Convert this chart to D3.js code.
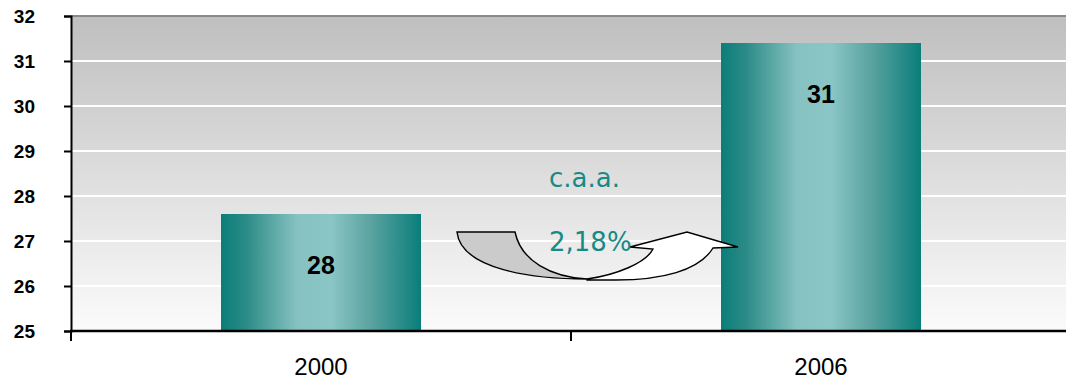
<!DOCTYPE html>
<html>
<head>
<meta charset="utf-8">
<script src="https://cdn.jsdelivr.net/npm/d3@7"></script>
<style>
  html, body { margin: 0; padding: 0; background: #ffffff; }
  svg { display: block; }
</style>
</head>
<body>
<svg id="chart" width="1066" height="383"></svg>
<script>
// Population (millions), 2000 vs 2006
const categories = ["2000", "2006"];
const values = [27.6, 31.4];
const yTicks = [25, 26, 27, 28, 29, 30, 31, 32];
const growthTitle = "c.a.a.";
const growthRate = "2,18%";

const W = 1066, H = 383;
const margin = { top: 16, right: -5, bottom: 52, left: 71 };
const svg = d3.select("#chart");
const defs = svg.append("defs");

const x = d3.scaleBand()
  .domain(categories)
  .range([margin.left, W - margin.right])
  .paddingInner(0.6)
  .paddingOuter(0.3);
const y = d3.scaleLinear()
  .domain([25, 32])
  .range([H - margin.bottom, margin.top]);

// plot background: grey fading to white
const bg = defs.append("linearGradient")
  .attr("id", "bgGrad").attr("x1", 0).attr("y1", 0).attr("x2", 0).attr("y2", 1);
bg.append("stop").attr("offset", "0%").attr("stop-color", "#bfbfbf");
bg.append("stop").attr("offset", "100%").attr("stop-color", "#fbfbfb");

// bar fill: teal edges with a pale centre
const barGrad = defs.append("linearGradient")
  .attr("id", "barGrad").attr("x1", 0).attr("y1", 0).attr("x2", 1).attr("y2", 0);
[["0%", "#0a7e7a"], ["12%", "#2a8a86"], ["38%", "#86c2c1"], ["55%", "#8ac6c5"], ["75%", "#5aa3a0"], ["100%", "#0a7e7a"]]
  .forEach(([o, c]) => barGrad.append("stop").attr("offset", o).attr("stop-color", c));

const x0 = margin.left, x1 = W;
svg.append("rect")
  .attr("x", x0).attr("y", y(32))
  .attr("width", x1 - x0).attr("height", y(25) - y(32))
  .attr("fill", "url(#bgGrad)");

// top border of the plot area
svg.append("line")
  .attr("x1", x0).attr("x2", x1)
  .attr("y1", y(32)).attr("y2", y(32))
  .attr("stroke", "#8a8a8a").attr("stroke-width", 2);

// horizontal gridlines
svg.append("g")
  .selectAll("line")
  .data(yTicks.filter(t => t > 25 && t < 32))
  .join("line")
  .attr("x1", x0).attr("x2", x1)
  .attr("y1", d => y(d)).attr("y2", d => y(d))
  .attr("stroke", "#ffffff").attr("stroke-width", 2);

// bars
svg.append("g")
  .selectAll("rect")
  .data(values)
  .join("rect")
  .attr("x", (d, i) => x(categories[i]))
  .attr("y", d => y(d))
  .attr("width", x.bandwidth())
  .attr("height", d => y(25) - y(d))
  .attr("fill", "url(#barGrad)");

// value labels inside the bars
svg.append("g")
  .selectAll("text")
  .data(values)
  .join("text")
  .attr("x", (d, i) => x(categories[i]) + x.bandwidth() / 2)
  .attr("y", d => y(d) + 60)
  .attr("text-anchor", "middle")
  .attr("font-family", "Liberation Sans, Arial, sans-serif")
  .attr("font-weight", "bold")
  .attr("font-size", 25)
  .attr("fill", "#000")
  .text(d => d3.format(".0f")(d));

// y axis
const yAxis = svg.append("g")
  .attr("transform", `translate(${margin.left},0)`)
  .call(d3.axisLeft(y).tickValues(yTicks).tickSize(7).tickPadding(29).tickFormat(d3.format("d")));
yAxis.select(".domain").attr("stroke", "#000").attr("stroke-width", 2);
yAxis.selectAll(".tick line").attr("stroke", "#000").attr("stroke-width", 2);
yAxis.selectAll(".tick text")
  .attr("font-family", "Liberation Sans, Arial, sans-serif")
  .attr("font-weight", "bold")
  .attr("font-size", 19)
  .attr("dy", "0.36em")
  .attr("fill", "#000");

// x axis with category separators
const xBase = y(25);
const xAxis = svg.append("g");
xAxis.append("line")
  .attr("x1", margin.left - 1).attr("x2", W)
  .attr("y1", xBase).attr("y2", xBase)
  .attr("stroke", "#000").attr("stroke-width", 2.5);
const seps = [0, 1, 2].map(i => margin.left + i * (W - margin.right - margin.left) / categories.length);
xAxis.selectAll("line.sep")
  .data(seps)
  .join("line")
  .attr("class", "sep")
  .attr("x1", d => d).attr("x2", d => d)
  .attr("y1", xBase).attr("y2", xBase + 10)
  .attr("stroke", "#000").attr("stroke-width", 2);
xAxis.selectAll("text")
  .data(categories)
  .join("text")
  .attr("x", d => x(d) + x.bandwidth() / 2)
  .attr("y", xBase + 44)
  .attr("text-anchor", "middle")
  .attr("font-family", "Liberation Sans, Arial, sans-serif")
  .attr("font-size", 24)
  .attr("fill", "#000")
  .text(d => d);

// growth annotation: curved up-arrow between the bars
const ax = seps[1], ay = y(27);
const arrow = svg.append("g").attr("transform", `translate(${ax},${ay})`)
  .attr("stroke", "#000").attr("stroke-width", 1.4).attr("stroke-linejoin", "miter");
// shaded underside
arrow.append("path")
  .attr("d", "M-114,-9 L-56,-9 C-50,20 -20,36 16,38 C-40,38 -110,28 -114,-9 Z")
  .attr("fill", "#cbcbcb");
// white rising part with head
arrow.append("path")
  .attr("d", "M16,38 C45,34 75,22 82,8 L59,6 L116,-9 L167,6 L142,7 C128,30 90,39 45,39 L16,39 Z")
  .attr("fill", "#ffffff");

svg.append("text")
  .attr("x", ax - 22).attr("y", y(28) - 9)
  .attr("font-family", "DejaVu Sans, sans-serif")
  .attr("font-size", 26)
  .attr("fill", "#178a86")
  .text(growthTitle);
svg.append("text")
  .attr("x", ax - 22).attr("y", y(27) + 10)
  .attr("font-family", "DejaVu Sans, sans-serif")
  .attr("font-size", 26)
  .attr("fill", "#178a86")
  .text(growthRate);
</script>
</body>
</html>
